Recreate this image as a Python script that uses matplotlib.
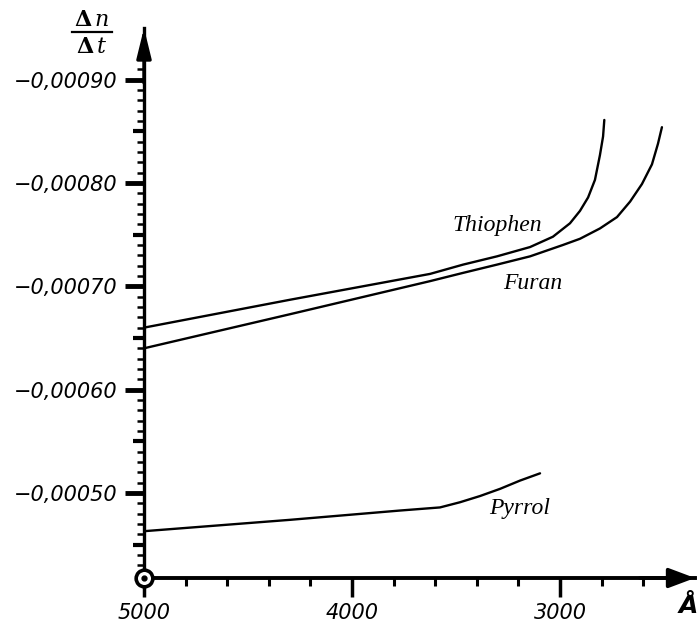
import matplotlib
matplotlib.use('Agg')
import matplotlib.pyplot as plt

# ---------------- data ----------------
thiophen_x = [5000, 4298, 3625, 3466, 3303, 3144, 3034, 2952, 2904, 2865,
              2832, 2808, 2793, 2787]
thiophen_y = [-0.000660, -0.000687, -0.000712, -0.000721, -0.000729, -0.000738,
              -0.000748, -0.000761, -0.000773, -0.000786, -0.000803, -0.000827,
              -0.000845, -0.000861]

furan_x = [5000, 4298, 3625, 3466, 3303, 3144, 2986, 2904, 2808, 2726, 2663,
           2606, 2558, 2529, 2510]
furan_y = [-0.000640, -0.000673, -0.000705, -0.000713, -0.000721, -0.000729,
           -0.000740, -0.000746, -0.000756, -0.000767, -0.000782, -0.000799,
           -0.000818, -0.000838, -0.000854]

pyrrol_x = [5000, 4298, 3769, 3577, 3481, 3385, 3288, 3192, 3096]
pyrrol_y = [-0.000463, -0.000474, -0.000483, -0.000486, -0.000491, -0.000497,
            -0.000504, -0.000512, -0.000519]

series_names = ['Thiophen', 'Furan', 'Pyrrol']
label_pos_x = [3303, 3130, 3192]
label_pos_y = [-0.000759, -0.000703, -0.000485]

x_major = [5000, 4000, 3000]
x_major_labels = ['5000', '4000', '3000']
x_minor = [4800, 4600, 4400, 4200, 3800, 3600, 3400, 3200, 2800, 2600]

y_major = [-0.00090, -0.00080, -0.00070, -0.00060, -0.00050]
y_major_labels = ['\u22120,00090', '\u22120,00080', '\u22120,00070',
                  '\u22120,00060', '\u22120,00050']
y_mid = [-0.00085, -0.00075, -0.00065, -0.00055, -0.00045]
y_minor = [-k * 1e-5 for k in range(43, 93)]

x_limits = (5000, 2351)
y_limits = (-0.0004177, -0.00095)

# ---------------- figure ----------------
W, H = 699, 634
fig = plt.figure(figsize=(W / 100, H / 100), dpi=100)
plt.rcParams['font.family'] = ['DejaVu Sans']


def fx(px):
    return px / W


def fy(py):
    return 1 - py / H


ax = fig.add_axes([fx(144), fy(578), fx(695) - fx(144), fy(28) - fy(578)])
ax.set_xlim(*x_limits)
ax.set_ylim(*y_limits)

for sx, sy in [(thiophen_x, thiophen_y), (furan_x, furan_y), (pyrrol_x, pyrrol_y)]:
    ax.plot(sx, sy, color='black', lw=1.7, solid_capstyle='round',
            solid_joinstyle='round')

for name, lx, ly in zip(series_names, label_pos_x, label_pos_y):
    ax.text(lx, ly, name, fontsize=17, family='Liberation Serif', style='italic',
            ha='center', va='center')

# spines
for s in ['top', 'right']:
    ax.spines[s].set_visible(False)
ax.spines['left'].set_linewidth(2.4)
ax.spines['bottom'].set_linewidth(2.8)

# ticks
ax.set_xticks(x_major)
ax.set_xticklabels(x_major_labels)
ax.set_xticks(x_minor, minor=True)
ax.set_yticks(y_major)
ax.set_yticklabels(y_major_labels)
ax.set_yticks(y_minor, minor=True)
ax.tick_params(axis='x', which='major', direction='out', length=14, width=2.5,
               pad=4, labelsize=15)
ax.tick_params(axis='x', which='minor', direction='out', length=6, width=2.2)
ax.tick_params(axis='y', which='major', direction='out', length=14, width=3.5,
               pad=5, labelsize=15)
ax.tick_params(axis='y', which='minor', direction='out', length=5, width=1.8)
for lab in ax.get_xticklabels() + ax.get_yticklabels():
    lab.set_fontstyle('italic')

sec = ax.secondary_yaxis('left')
sec.set_yticks(y_mid)
sec.tick_params(axis='y', which='major', direction='out', length=8, width=3,
                labelleft=False)
sec.tick_params(axis='y', which='minor', length=0)
sec.spines['left'].set_visible(False)

# axis arrows
arrow_y = dict(arrowstyle='-|>,head_length=0.9,head_width=0.22', lw=2.4,
               color='black', shrinkA=0, shrinkB=0, mutation_scale=20)
arrow_x = dict(arrowstyle='-|>,head_length=0.8,head_width=0.3', lw=2.6,
               color='black', shrinkA=0, shrinkB=0, mutation_scale=20)
ax.annotate('', xy=(0, 1), xycoords='axes fraction', xytext=(0, 0.9),
            textcoords='axes fraction', arrowprops=arrow_y, annotation_clip=False)
ax.annotate('', xy=(1, 0), xycoords='axes fraction', xytext=(0.9, 0),
            textcoords='axes fraction', arrowprops=arrow_x, annotation_clip=False)

# origin circle
ax.plot(0, 0, 'o', transform=ax.transAxes, ms=12, mfc='white', mec='black',
        mew=2.6, clip_on=False, zorder=6)
ax.plot(0, 0, 'o', transform=ax.transAxes, ms=3.5, color='black',
        clip_on=False, zorder=7)

# axis labels
fig.text(fx(698), fy(606), '\u00c5', fontsize=18, fontweight='bold',
         style='italic', ha='right', va='center')
fig.text(fx(92), fy(20), r'$\mathbf{\Delta}\,n$', fontsize=16,
         math_fontfamily='dejavuserif', ha='center', va='center')
fig.text(fx(92), fy(47), r'$\mathbf{\Delta}\,t$', fontsize=16,
         math_fontfamily='dejavuserif', ha='center', va='center')
fig.add_artist(plt.Line2D([fx(72), fx(112)], [fy(32), fy(32)], color='black',
                          lw=1.6, transform=fig.transFigure))

fig.savefig('out.png', dpi=100, facecolor='white')
